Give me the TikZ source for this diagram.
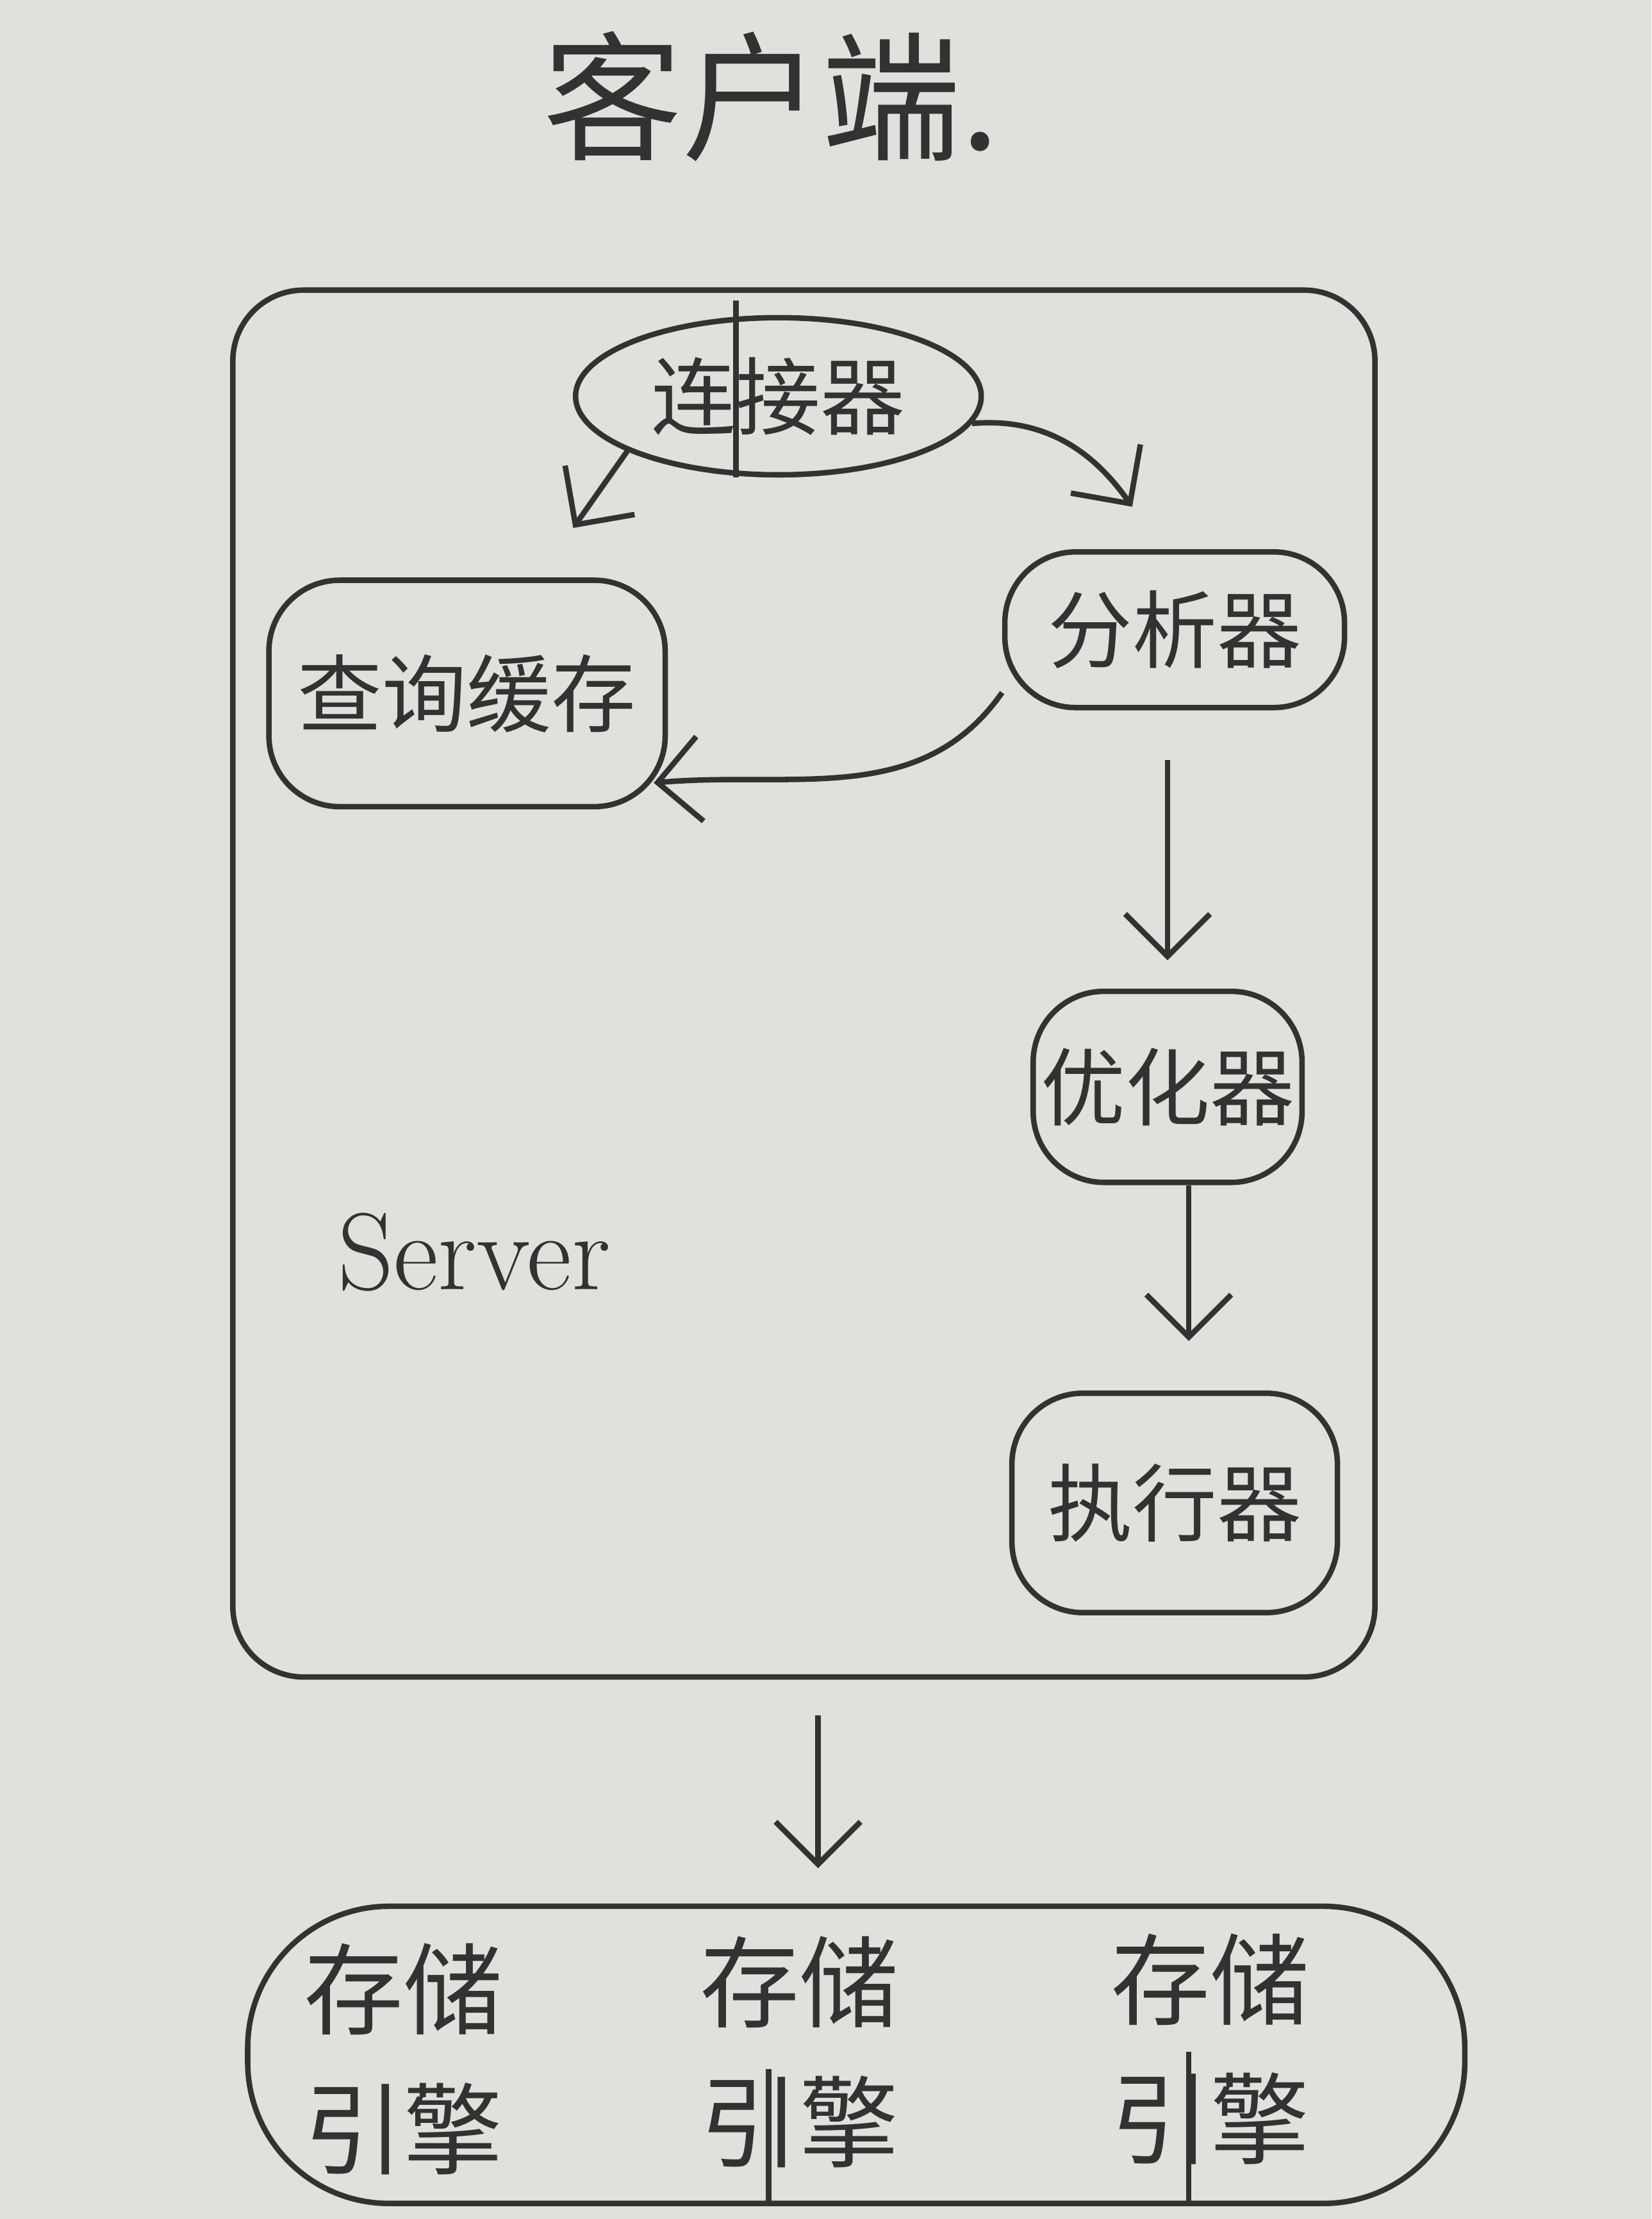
\documentclass[tikz,border=0pt]{standalone}
\usepackage{fontspec}
\newfontfamily\cjk{Noto Sans CJK SC}
\usetikzlibrary{shapes.geometric,arrows.meta}
\definecolor{ink}{RGB}{50,50,50}
\definecolor{paper}{RGB}{224,224,221}
\begin{document}
\begin{tikzpicture}[ink, line width=1.1pt,
    font=\cjk\fontsize{17}{20}\selectfont,
    >={Straight Barb[length=3mm,width=6mm]},
    blob/.style={draw, rounded corners=5mm, inner sep=0pt}]
      \fill[paper] (0,0) rectangle (11.67,-15.68);
      \useasboundingbox (0,0) rectangle (11.67,-15.68);
      \node(T) at (5.45,-0.68) {\fontsize{28}{30}\selectfont 客户端.};
      \node(Srv)[blob, minimum width=8.07cm, minimum height=9.8cm] at (5.68,-6.95) {};
      \node(SrvL) at (3.35,-8.85) {\normalfont\fontsize{22}{24}\selectfont Server};
      \node(Conn)[draw, ellipse, minimum width=2.6cm, minimum height=1.1cm] at (5.5,-2.8) {连接器};
      \draw ([xshift=-3mm,yshift=1mm]Conn.north) -- ([xshift=-3mm]Conn.south);
      \foreach \n/\x/\y/\w/\h/\t in{Cache/3.3/4.9/2.8/1.6/查询缓存, Ana/8.3/4.45/2.4/1.1/分析器,
          Opt/8.25/7.68/1.9/1.35/优化器, Exe/8.3/10.62/2.3/1.55/执行器}{
        \node(\n)[blob, minimum width=\w cm, minimum height=\h cm] at (\x,-\y) {\t};
      }
      \draw[->](Conn.200)--([xshift=7.5mm,yshift=3.5mm]Cache.north);
      \draw[->](Conn.-8)to[out=5,in=125]([xshift=-3mm,yshift=3mm]Ana.north);
      \draw[->](Ana.200)to[out=235,in=5]([xshift=-1mm]Cache.-24);
      \draw[->, shorten <=3.5mm, shorten >=2mm](Ana.south -| Opt.north)--(Opt.north);
      \draw[->, shorten >=3.5mm]([xshift=1.5mm]Opt.south)--([xshift=1.5mm]Opt.south |- Exe.north);
      % storage engines
      \node(Eng)[blob, rounded corners=1cm, minimum width=8.6cm, minimum height=2.1cm] at (6.05,-14.52) {};
      \draw[->, shorten <=2.5mm, shorten >=2.5mm]([xshift=1mm]Srv.south)--([xshift=1mm]Srv.south |- Eng.north);
      \foreach \i/\x/\y in{1/2.85/14.55, 2/5.65/14.5, 3/8.55/14.48}{
        \node(S\i)[align=center, font=\cjk\fontsize{20}{28}\selectfont] at (\x,-\y) {存储\\引擎};
      }
      \foreach \i/\x/\y in{1/5.43/14.62, 2/8.4/14.5}{
        \coordinate(D\i) at (\x,-\y);
        \draw (D\i)--(D\i |- Eng.south);
      }
    \end{tikzpicture}
\end{document}
